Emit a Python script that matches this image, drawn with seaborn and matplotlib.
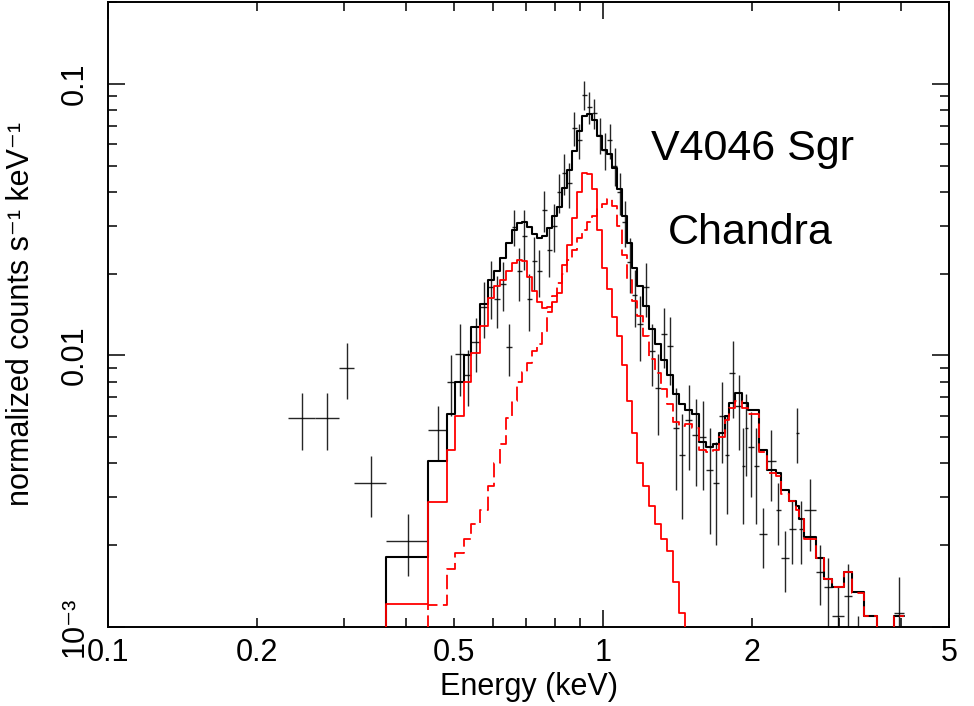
import numpy as np
import pandas as pd
import matplotlib
matplotlib.use('Agg')
import matplotlib.pyplot as plt
import matplotlib.ticker as mticker
import seaborn as sns

# grouped spectrum, bin edges in keV
edges = [0.2307, 0.2617, 0.2927, 0.3140, 0.3647, 0.4437, 0.4849, 0.5033, 0.5250, 0.5423,
         0.5630, 0.5844, 0.6010, 0.6182, 0.6357, 0.6538, 0.6693, 0.6850, 0.7011, 0.7177,
         0.7347, 0.7521, 0.7698, 0.7881, 0.8067, 0.8256, 0.8453, 0.8652, 0.8858, 0.9066,
         0.9279, 0.9499, 0.9723, 0.9954, 1.0188, 1.0430, 1.0676, 1.0926, 1.1186, 1.1451,
         1.1722, 1.2050, 1.2393, 1.2746, 1.3106, 1.3480, 1.3868, 1.4262, 1.4666, 1.5152,
         1.5656, 1.6176, 1.6713, 1.719, 1.760, 1.801, 1.852, 1.905, 1.932, 1.959,
         2.015, 2.063, 2.141, 2.233, 2.286, 2.373, 2.452, 2.486, 2.546, 2.692,
         2.794, 2.901, 3.068, 3.185, 3.369, 3.580, 3.874, 4.059]

# observed counts and 1-sigma errors
counts = [0.0059, 0.0059, 0.0090, 0.0034, 0.00207, 0.0053, 0.0080, 0.0101, 0.0085, 0.0112,
          0.0151, 0.0179, 0.0161, 0.0183, 0.0107, 0.0298, 0.0204, 0.0274, 0.0161, 0.0222,
          0.0204, 0.0344, 0.0245, 0.0300, 0.0400, 0.047, 0.043, 0.069, 0.062, 0.091,
          0.082, 0.078, 0.065, 0.057, 0.062, 0.050, 0.040, 0.031, 0.022, 0.0167,
          0.013, 0.0178, 0.0104, 0.0076, 0.012, 0.0108, 0.0054, 0.0043, 0.0058, 0.0051,
          0.0050, 0.0038, 0.0034, 0.0060, 0.0043, 0.0086, 0.0065, 0.0039, 0.0054, 0.0046,
          0.0039, 0.0022, 0.0041, 0.0027, 0.0018, 0.0023, 0.0052, 0.0023, 0.0027, 0.0016,
          0.0014, 0.0011, 0.0013, 0.0007, 0.0006, 0.0005, 0.00113]
counts_err = [0.0014, 0.0014, 0.0021, 0.00085, 0.00053, 0.0012, 0.0020, 0.0030, 0.0020, 0.0025,
              0.0035, 0.0043, 0.0035, 0.0037, 0.0023, 0.0046, 0.0045, 0.0068, 0.0038, 0.0050,
              0.0040, 0.0060, 0.0050, 0.0060, 0.0065, 0.008, 0.008, 0.010, 0.009, 0.011,
              0.011, 0.010, 0.010, 0.009, 0.009, 0.008, 0.007, 0.006, 0.005, 0.004,
              0.0035, 0.004, 0.0027, 0.0025, 0.003, 0.003, 0.0022, 0.0018, 0.002, 0.0018,
              0.0018, 0.0016, 0.0014, 0.002, 0.0017, 0.0027, 0.002, 0.0015, 0.0018, 0.0016,
              0.0015, 0.00055, 0.0012, 0.0007, 0.00045, 0.0006, 0.0012, 0.0006, 0.0008, 0.0004,
              0.0004, 0.0003, 0.0004, 0.0004, 0.0003, 0.0003, 0.0004]

# folded model: total, cool (kT1) and hot (kT2) components
total_model = [0.0004, 0.0005, 0.0006, 0.0008, 0.00181, 0.00407, 0.0061, 0.0080, 0.0100, 0.0127,
               0.0155, 0.0190, 0.0205, 0.0229, 0.0260, 0.0290, 0.0306, 0.0310, 0.0296, 0.0280,
               0.0270, 0.0275, 0.0295, 0.0325, 0.0353, 0.0415, 0.048, 0.0565, 0.067, 0.076,
               0.0775, 0.0735, 0.064, 0.057, 0.055, 0.049, 0.041, 0.0325, 0.026, 0.021,
               0.018, 0.0152, 0.0125, 0.011, 0.0096, 0.0085, 0.0072, 0.0066, 0.0063, 0.0061,
               0.0048, 0.0046, 0.0047, 0.0052, 0.0060, 0.0067, 0.0073, 0.0067, 0.0067, 0.0063,
               0.0063, 0.0045, 0.0038, 0.0037, 0.0032, 0.0029, 0.0028, 0.0025, 0.00215, 0.0018,
               0.0015, 0.0014, 0.0016, 0.00135, 0.0011, 0.0008, 0.0011]
cool_model = [0.0003, 0.0004, 0.0005, 0.0007, 0.00122, 0.00288, 0.0045, 0.0060, 0.0080, 0.0102,
              0.0128, 0.0163, 0.0180, 0.0190, 0.0205, 0.0218, 0.0225, 0.0222, 0.0195, 0.0172,
              0.0157, 0.0150, 0.0151, 0.0157, 0.0170, 0.0215, 0.0255, 0.0320, 0.0400, 0.0470,
              0.0465, 0.041, 0.029, 0.021, 0.0175, 0.0139, 0.0118, 0.0092, 0.0068, 0.0052,
              0.0040, 0.0033, 0.0028, 0.0024, 0.0021, 0.0019, 0.00147, 0.00113, 0.0008, 0.0006,
              0.0004, 0.0003, 0.0002, 0.0002, 0.0002, 0.0001, 0.0001, 0.0001, 0.0001, 0.0001,
              0.0001, 0.0001, 0.0001, 0.0001, 0.0001, 0.0001, 0.0001, 0.0001, 0.0001, 0.0001,
              0.0001, 0.0001, 0.0001, 0.0001, 0.0001, 0.0001, 0.0001]
hot_model = [0.0001, 0.0001, 0.0001, 0.0002, 0.0006, 0.00121, 0.00163, 0.00187, 0.00211, 0.0024,
             0.0027, 0.0033, 0.0040, 0.0047, 0.0059, 0.0068, 0.0080, 0.0087, 0.0094, 0.0104,
             0.0110, 0.0122, 0.0144, 0.0165, 0.0185, 0.0200, 0.0225, 0.0245, 0.027, 0.029,
             0.031, 0.0325, 0.0345, 0.036, 0.0375, 0.0355, 0.030, 0.0235, 0.019, 0.0158,
             0.014, 0.0118, 0.0097, 0.0086, 0.0075, 0.0066, 0.0057, 0.0055, 0.0056, 0.0054,
             0.0045, 0.0044, 0.0045, 0.0050, 0.0058, 0.0064, 0.0068, 0.0064, 0.0064, 0.0061,
             0.0061, 0.0044, 0.0037, 0.0036, 0.0031, 0.0029, 0.0027, 0.0025, 0.0021, 0.0018,
             0.0015, 0.0014, 0.0016, 0.00133, 0.0011, 0.0008, 0.0011]

sns.set_theme(style='ticks')
plt.rcParams['font.family'] = ['Liberation Sans', 'DejaVu Sans']
plt.rcParams.update({'text.color': 'black', 'axes.labelcolor': 'black',
                     'xtick.color': 'black', 'ytick.color': 'black',
                     'axes.edgecolor': 'black', 'axes.linewidth': 1.4})

fig = plt.figure(figsize=(9.74, 7.06), dpi=100)
ax = fig.add_axes([108 / 974, 1 - 627 / 706, 841 / 974, 625 / 706])
ax.set_xscale('log')
ax.set_yscale('log')

e = np.array(edges)
lo, hi = e[:-1], e[1:]
mid = (lo + hi) / 2

ax.errorbar(mid, counts, xerr=[mid - lo, hi - mid], yerr=counts_err, fmt='none',
            ecolor='black', elinewidth=1.0, capsize=0, alpha=0.85, zorder=2)


def steps(vals):
    return pd.DataFrame({'E': e, 'v': list(vals) + [vals[-1]]})


sns.lineplot(data=steps(total_model), x='E', y='v', drawstyle='steps-post', color='black',
             lw=1.5, estimator=None, ax=ax, zorder=3)
sns.lineplot(data=steps(cool_model), x='E', y='v', drawstyle='steps-post', color='red',
             lw=1.3, estimator=None, ax=ax, zorder=4)
sns.lineplot(data=steps(hot_model), x='E', y='v', drawstyle='steps-post', color='red',
             lw=1.3, estimator=None, ax=ax, zorder=4)
ax.lines[-1].set_dashes((8, 3))

ax.set_xlim(0.1, 5)
ax.set_ylim(1e-3, 0.2)

ax.xaxis.set_major_locator(mticker.LogLocator(base=10))
ax.xaxis.set_minor_locator(mticker.LogLocator(base=10, subs=np.arange(2, 10)))
ax.xaxis.set_major_formatter(mticker.FuncFormatter(lambda v, p: f'{v:g}'))


def minor_x(v, p):
    lead = round(v / 10 ** np.floor(np.log10(v) + 1e-9))
    return f'{v:g}' if lead in (2, 5) else ''


ax.xaxis.set_minor_formatter(mticker.FuncFormatter(minor_x))
ax.yaxis.set_major_locator(mticker.LogLocator(base=10))
ax.yaxis.set_minor_locator(mticker.LogLocator(base=10, subs=np.arange(2, 10)))
ylabels = {-3: '10\u207b\u00b3', -2: '0.01', -1: '0.1'}
ax.yaxis.set_major_formatter(mticker.FuncFormatter(lambda v, p: ylabels.get(int(round(np.log10(v))), '')))
ax.yaxis.set_minor_formatter(mticker.NullFormatter())

ax.tick_params(which='both', direction='in', top=True, right=True, width=1.1, color='black')
ax.tick_params(which='major', length=12)
ax.tick_params(which='minor', length=6.5)
ax.tick_params(axis='x', which='both', labelsize=22, pad=8)
ax.tick_params(axis='y', which='both', labelsize=22, pad=13)
plt.setp(ax.get_yticklabels(), rotation=90, va='center')

for s in ax.spines.values():
    s.set_color('black')
    s.set_linewidth(1.4)

ax.set_xlabel('Energy (keV)', fontsize=22, labelpad=3)
ax.set_ylabel('normalized counts s\u207b\u00b9 keV\u207b\u00b9', fontsize=22)
ax.yaxis.set_label_coords(-0.086, 0.5)

ax.text(0.6457, 0.747, 'V4046 Sgr', transform=ax.transAxes, fontsize=31, ha='left', va='baseline')
ax.text(0.666, 0.613, 'Chandra', transform=ax.transAxes, fontsize=31, ha='left', va='baseline')

fig.savefig('out.png', dpi=100)
